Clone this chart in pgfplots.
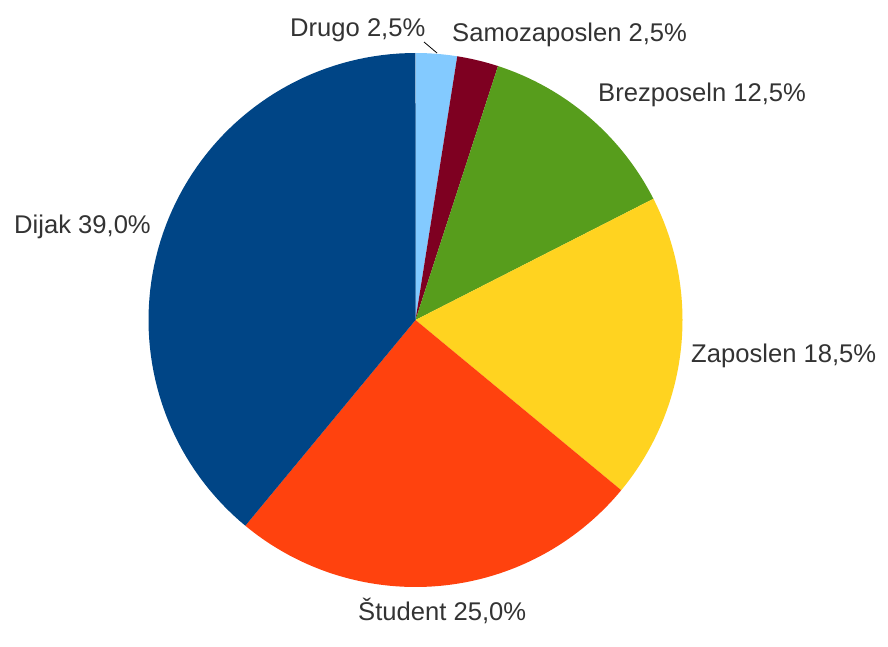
\documentclass[border=0pt]{standalone}
\usepackage{fontspec}
\setmainfont{Liberation Sans}
\usepackage{pgfplots}
\pgfplotsset{compat=1.18}

\definecolor{cDrugo}{HTML}{83CAFF}
\definecolor{cSamo}{HTML}{7E0021}
\definecolor{cBrez}{HTML}{579D1C}
\definecolor{cZap}{HTML}{FFD320}
\definecolor{cStud}{HTML}{FF420E}
\definecolor{cDijak}{HTML}{004586}
\definecolor{txt}{HTML}{333333}

% shares in percent, clockwise from 12 o'clock
% Drugo 2.5, Samozaposlen 2.5, Brezposeln 12.5, Zaposlen 18.5, Student 25.0, Dijak 39.0
\newcommand{\cx}{415.5}
\newcommand{\cy}{326}
\newcommand{\rr}{267}
% slice from start angle #2 to end angle #3 (degrees)
\newcommand{\slice}[3]{%
  \addplot[fill=#1, draw=none, domain=#2:#3, samples=80, variable=\t]
    ({\cx+\rr*cos(t)},{\cy+\rr*sin(t)}) -- (axis cs:\cx,\cy) -- cycle;}

\begin{document}
\begin{tikzpicture}
\begin{axis}[
    scale only axis,
    width=888pt, height=646pt,
    xmin=0, xmax=888, ymin=0, ymax=646,
    hide axis, clip=false,
]
% angle = 90 - 3.6*cumulative percent
\slice{cDrugo}{90}{81}
\slice{cSamo}{81}{72}
\slice{cBrez}{72}{27}
\slice{cZap}{27}{-39.6}
\slice{cStud}{-39.6}{-129.6}
\slice{cDijak}{-129.6}{-270}

\addplot[black, line width=0.8pt, no marks] coordinates {(424,604) (437,593)};

\begin{scope}[every node/.style={inner sep=0pt, text=txt, font=\fontsize{25.6}{30}\selectfont}]
\node[anchor=base west] at (axis cs:290,609) {Drugo 2,5\%};
\node[anchor=base west] at (axis cs:452,604) {Samozaposlen 2,5\%};
\node[anchor=base west] at (axis cs:598,544) {Brezposeln 12,5\%};
\node[anchor=base west] at (axis cs:691,284) {Zaposlen 18,5\%};
\node[anchor=base west] at (axis cs:358,26) {Študent 25,0\%};
\node[anchor=base west] at (axis cs:14,412) {Dijak 39,0\%};
\end{scope}
\end{axis}
\pgfresetboundingbox
\path[use as bounding box] (current axis.south west) rectangle (current axis.north east);
\end{tikzpicture}
\end{document}
